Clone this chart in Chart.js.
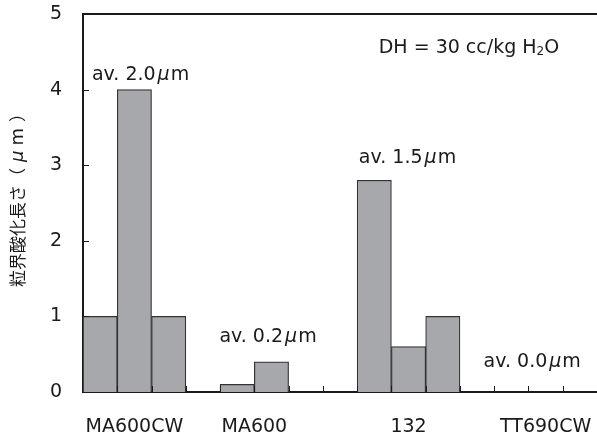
<!DOCTYPE html>
<html lang="ja">
<head>
<meta charset="UTF-8">
<title>粒界酸化長さ</title>
<script src="https://cdn.jsdelivr.net/npm/chart.js"></script>
<style>
  html, body { margin: 0; padding: 0; background: #fff; }
  #wrap { width: 597px; height: 439px; }
</style>
</head>
<body>
<div id="wrap"><canvas id="c" width="597" height="439"></canvas></div>
<script>
// categories and their three bar values each
const categories = ['MA600CW', 'MA600', '132', 'TT690CW'];
const valsMA600CW = [1.0, 4.0, 1.0];
const valsMA600 = [0.1, 0.4, 0];
const vals132 = [2.8, 0.6, 1.0];
const valsTT690CW = [0, 0, 0];
const averages = ['2.0', '0.2', '1.5', '0.0'];
const yTicks = [0, 1, 2, 3, 4, 5];

// layout of bars on the slot axis (4 slots per group, last one empty)
const groupStart = [0, 4, 8, 12];
const labelPos = [1.5, 5.0, 9.5, 13.5];
// where the "av." notes sit, in data units [x, y]
const notePos = [[0.26, 4.19], [3.98, 0.73], [8.05, 3.10], [11.69, 0.40]];
const dhPos = [8.63, 4.55];

const groups = [valsMA600CW, valsMA600, vals132, valsTT690CW];
const points = [];
groups.forEach((g, i) => {
  g.forEach((v, j) => {
    if (v > 0) points.push({ x: groupStart[i] + j + 0.5, y: v });
  });
});

const FONT = '"DejaVu Sans", "Liberation Sans", sans-serif';
const INK = '#1a1a1a';

function drawMu(ctx, x, y, pre, post, size) {
  ctx.font = size + 'px ' + FONT;
  ctx.fillText(pre, x, y);
  x += ctx.measureText(pre).width + 2;
  ctx.font = 'italic ' + size + 'px ' + FONT;
  ctx.fillText('μ', x, y);
  x += ctx.measureText('μ').width + 1;
  ctx.font = size + 'px ' + FONT;
  ctx.fillText(post, x, y);
}

const extras = {
  id: 'extras',
  afterDraw(chart) {
    const ctx = chart.ctx;
    const xs = chart.scales.x, ys = chart.scales.y;
    const a = chart.chartArea;
    ctx.save();
    // top frame line
    ctx.strokeStyle = INK;
    ctx.lineWidth = 2;
    ctx.beginPath();
    ctx.moveTo(a.left, a.top);
    ctx.lineTo(a.right, a.top);
    ctx.stroke();
    // inward ticks
    ctx.lineWidth = 1;
    ctx.beginPath();
    for (let i = 1; i < 15; i++) {
      const px = Math.round(xs.getPixelForValue(i)) + 0.5;
      ctx.moveTo(px, a.bottom);
      ctx.lineTo(px, a.bottom - 6);
    }
    yTicks.slice(1, -1).forEach(v => {
      const py = Math.round(ys.getPixelForValue(v)) + 0.5;
      ctx.moveTo(a.left, py);
      ctx.lineTo(a.left + 6, py);
    });
    ctx.stroke();

    // notes
    ctx.fillStyle = INK;
    ctx.textBaseline = 'middle';
    ctx.textAlign = 'left';
    averages.forEach((av, i) => {
      const px = xs.getPixelForValue(notePos[i][0]);
      const py = ys.getPixelForValue(notePos[i][1]);
      drawMu(ctx, px, py, 'av. ' + av, 'm', 19);
    });
    // DH = 30 cc/kg H2O
    let px = xs.getPixelForValue(dhPos[0]);
    const py = ys.getPixelForValue(dhPos[1]);
    ctx.font = '19px ' + FONT;
    const t1 = 'DH = 30 cc/kg H';
    ctx.fillText(t1, px, py);
    px += ctx.measureText(t1).width;
    ctx.font = '12px ' + FONT;
    ctx.fillText('2', px, py + 4);
    px += ctx.measureText('2').width;
    ctx.font = '19px ' + FONT;
    ctx.fillText('O', px, py);

    // y axis title, rotated
    ctx.translate(18, 196);
    ctx.rotate(-Math.PI / 2);
    ctx.textAlign = 'left';
    const jp = '17px "Noto Sans CJK JP", sans-serif';
    const parts = [
      ['粒界酸化長さ（', jp, 6],
      ['μ', 'italic 18px ' + FONT, 5],
      ['m', '18px ' + FONT, 6],
      ['）', jp, 0]
    ];
    let w = 0;
    parts.forEach(p => { ctx.font = p[1]; w += ctx.measureText(p[0]).width + p[2]; });
    let cx = -w / 2;
    parts.forEach(p => {
      ctx.font = p[1];
      ctx.fillText(p[0], cx, 0);
      cx += ctx.measureText(p[0]).width + p[2];
    });
    ctx.restore();
  }
};

new Chart(document.getElementById('c'), {
  type: 'bar',
  data: {
    datasets: [{
      data: points,
      backgroundColor: '#a7a8ab',
      borderColor: '#333333',
      borderWidth: 1.2,
      borderSkipped: 'bottom',
      barPercentage: 1,
      categoryPercentage: 1
    }]
  },
  options: {
    responsive: false,
    animation: false,
    layout: { padding: { top: 14, right: 0, left: 0, bottom: 0 } },
    plugins: { legend: { display: false }, tooltip: { enabled: false } },
    scales: {
      x: {
        type: 'linear',
        min: 0,
        max: 15,
        offset: false,
        grid: { display: false, offset: false, drawTicks: false },
        border: { display: true, color: INK, width: 2 },
        afterBuildTicks(scale) {
          scale.ticks = labelPos.map(v => ({ value: v }));
        },
        afterFit(scale) {
          scale.height = 47;
          scale.paddingLeft = 0;
          scale.paddingRight = 0;
        },
        ticks: {
          autoSkip: false,
          maxRotation: 0,
          padding: 24,
          color: INK,
          font: { family: FONT, size: 19 },
          callback: (v, i) => categories[i]
        }
      },
      y: {
        min: 0,
        max: 5,
        afterBuildTicks(scale) {
          scale.ticks = yTicks.map(v => ({ value: v }));
        },
        afterFit(scale) {
          scale.width = 83;
          scale.paddingTop = 0;
          scale.paddingBottom = 0;
        },
        grid: { display: false, drawTicks: false },
        border: { display: true, color: INK, width: 2 },
        ticks: {
          padding: 21,
          color: INK,
          font: { family: FONT, size: 19 }
        }
      }
    }
  },
  plugins: [extras]
});
</script>
</body>
</html>
